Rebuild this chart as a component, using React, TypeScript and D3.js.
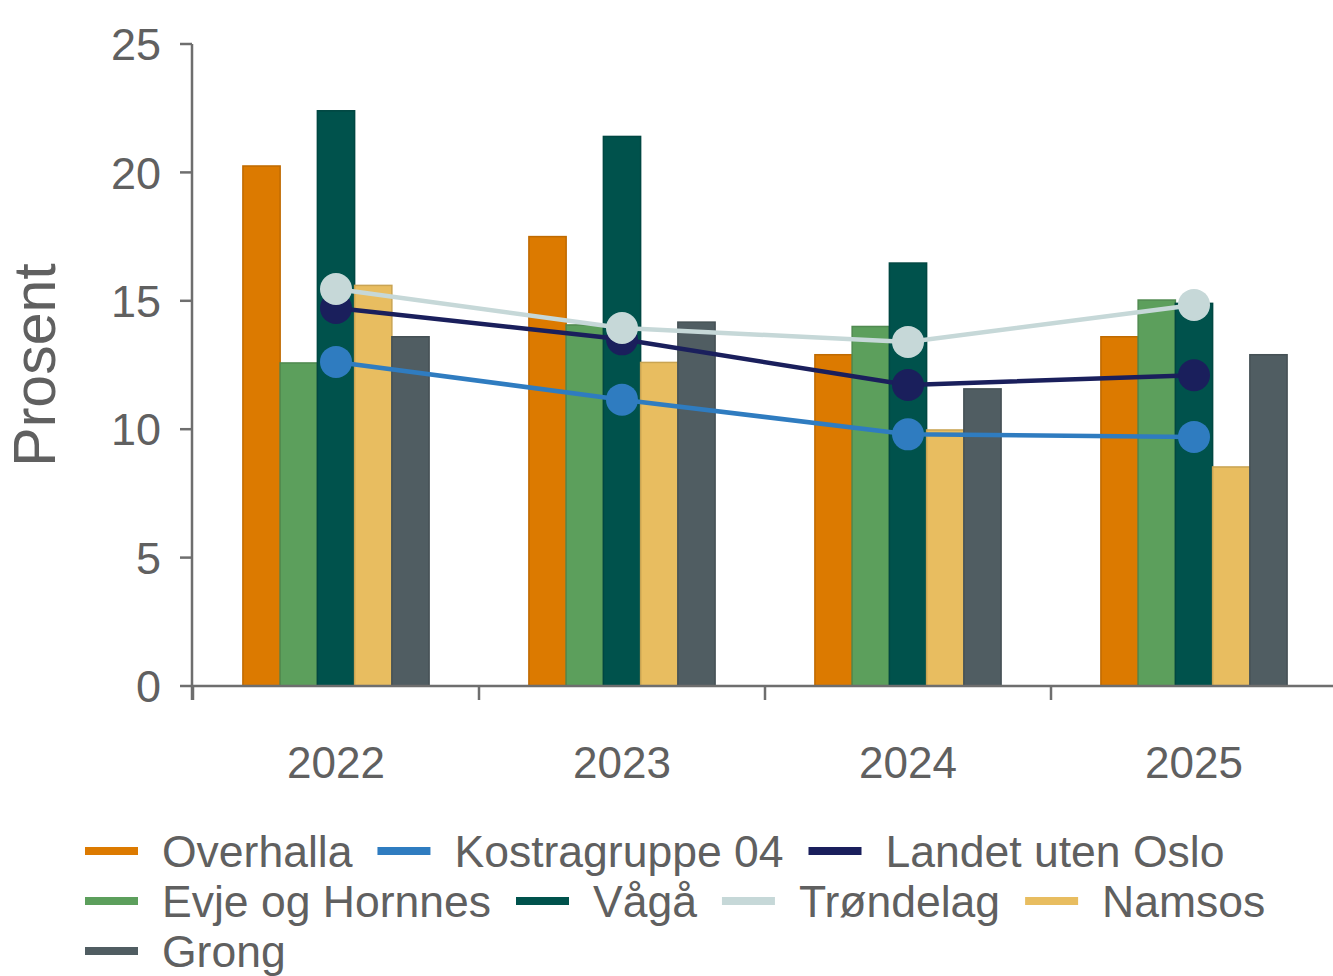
import React, { useEffect, useRef } from "react";
import * as d3 from "d3";

const years = ["2022", "2023", "2024", "2025"];
const barSeries = ["Overhalla", "Evje og Hornnes", "Vågå", "Namsos", "Grong"];
const overhalla = [20.25, 17.5, 12.9, 13.6];
const evje = [12.58, 14.06, 14.0, 15.03];
const vaga = [22.4, 21.4, 16.47, 14.9];
const namsos = [15.6, 12.6, 9.97, 8.53];
const grong = [13.6, 14.17, 11.57, 12.9];
const lineSeries = ["Kostragruppe 04", "Landet uten Oslo", "Trøndelag"];
const kostra = [12.62, 11.15, 9.8, 9.7];
const landet = [14.72, 13.5, 11.72, 12.1];
const trondelag = [15.46, 13.94, 13.4, 14.84];
const yTicks = [0, 5, 10, 15, 20, 25];
const legendOrder = ["Overhalla", "Kostragruppe 04", "Landet uten Oslo", "Evje og Hornnes", "Vågå", "Trøndelag", "Namsos", "Grong"];

const colors: Record<string, string> = {
  "Overhalla": "#dc7a00",
  "Evje og Hornnes": "#5c9f5c",
  "Vågå": "#00524c",
  "Namsos": "#e8bd60",
  "Grong": "#505d62",
  "Kostragruppe 04": "#2f7cc0",
  "Landet uten Oslo": "#1a1f5c",
  "Trøndelag": "#c6d8d8",
};

const barValues: Record<string, number[]> = {
  "Overhalla": overhalla,
  "Evje og Hornnes": evje,
  "Vågå": vaga,
  "Namsos": namsos,
  "Grong": grong,
};
const lineValues: Record<string, number[]> = {
  "Kostragruppe 04": kostra,
  "Landet uten Oslo": landet,
  "Trøndelag": trondelag,
};

const W = 1333;
const H = 976;
const FONT = "'Liberation Sans', Arial, sans-serif";
const TEXT = "#606060";
const AXIS = "#6e6e6e";

export default function App() {
  const ref = useRef<SVGSVGElement>(null);
  useEffect(() => {
    const svg = d3.select(ref.current);
    svg.selectAll("*").remove();

    const x0 = d3.scaleBand<string>().domain(years).range([193, 1337]).paddingInner(0).paddingOuter(0);
    const x1 = d3.scaleBand<string>().domain(barSeries).range([0, x0.bandwidth()]).paddingInner(0).paddingOuter(1.34);
    const y = d3.scaleLinear().domain([0, 25]).range([686, 44]);

    // bars
    barSeries.forEach((s) => {
      svg.append("g")
        .selectAll("rect")
        .data(barValues[s])
        .join("rect")
        .attr("x", (_d, i) => (x0(years[i]) as number) + (x1(s) as number))
        .attr("width", x1.bandwidth())
        .attr("y", (d) => y(d))
        .attr("height", (d) => y(0) - y(d))
        .attr("fill", colors[s])
        .attr("stroke", d3.color(colors[s])!.darker(0.4).toString())
        .attr("stroke-width", 1.5);
    });

    // axes
    const yAxis = svg.append("g").attr("transform", `translate(192,0)`);
    yAxis.append("line").attr("x1", 0).attr("x2", 0).attr("y1", y(25)).attr("y2", y(0) + 14)
      .attr("stroke", AXIS).attr("stroke-width", 2.5);
    yAxis.selectAll("line.t").data(yTicks).join("line").attr("class", "t")
      .attr("x1", -12).attr("x2", 0).attr("y1", (d) => y(d)).attr("y2", (d) => y(d))
      .attr("stroke", AXIS).attr("stroke-width", 2.5);
    yAxis.selectAll("text").data(yTicks).join("text")
      .attr("x", -31).attr("y", (d) => y(d)).attr("dy", "0.36em")
      .attr("text-anchor", "end").attr("font-family", FONT).attr("font-size", 45)
      .attr("fill", TEXT).text((d) => String(d));

    const xAxis = svg.append("g");
    xAxis.append("line").attr("x1", 192).attr("x2", W).attr("y1", y(0)).attr("y2", y(0))
      .attr("stroke", AXIS).attr("stroke-width", 2.5);
    const bounds = years.map((yr) => x0(yr) as number);
    xAxis.selectAll("line.t").data(bounds).join("line").attr("class", "t")
      .attr("x1", (d) => d).attr("x2", (d) => d).attr("y1", y(0)).attr("y2", y(0) + 14)
      .attr("stroke", AXIS).attr("stroke-width", 2.5);
    xAxis.selectAll("text").data(years).join("text")
      .attr("x", (d) => (x0(d) as number) + x0.bandwidth() / 2)
      .attr("y", 778).attr("text-anchor", "middle")
      .attr("font-family", FONT).attr("font-size", 44).attr("fill", TEXT).text((d) => d);

    // y label
    svg.append("text")
      .attr("transform", `translate(55,365) rotate(-90)`)
      .attr("text-anchor", "middle").attr("font-family", FONT).attr("font-size", 59)
      .attr("fill", TEXT).text("Prosent");

    // lines
    lineSeries.forEach((s) => {
      const pts = lineValues[s].map((v, i) => [(x0(years[i]) as number) + x0.bandwidth() / 2, y(v)] as [number, number]);
      svg.append("path").attr("d", d3.line()(pts)).attr("fill", "none")
        .attr("stroke", colors[s]).attr("stroke-width", 4.5);
      svg.append("g").selectAll("circle").data(pts).join("circle")
        .attr("cx", (d) => d[0]).attr("cy", (d) => d[1]).attr("r", 16)
        .attr("fill", colors[s]);
    });

    // legend
    const lg = svg.append("g");
    let cx = 85;
    let row = 0;
    const maxX = 1310;
    legendOrder.forEach((s) => {
      const t = lg.append("text").attr("font-family", FONT).attr("font-size", 44.5)
        .attr("fill", TEXT).attr("dy", "0.36em").text(s);
      const tw = (t.node() as SVGTextElement).getComputedTextLength();
      const itemW = 53 + 24 + tw;
      if (cx + itemW > maxX && cx > 85) {
        cx = 85;
        row += 1;
      }
      const cy = 851 + row * 50;
      lg.append("line").attr("x1", cx).attr("x2", cx + 53).attr("y1", cy).attr("y2", cy)
        .attr("stroke", colors[s]).attr("stroke-width", 8);
      t.attr("x", cx + 77).attr("y", cy);
      cx += itemW + 25;
    });
  }, []);

  return (
    <svg ref={ref} width={W} height={H} style={{ position: "absolute", left: 0, top: 0, background: "#fff" }} />
  );
}
